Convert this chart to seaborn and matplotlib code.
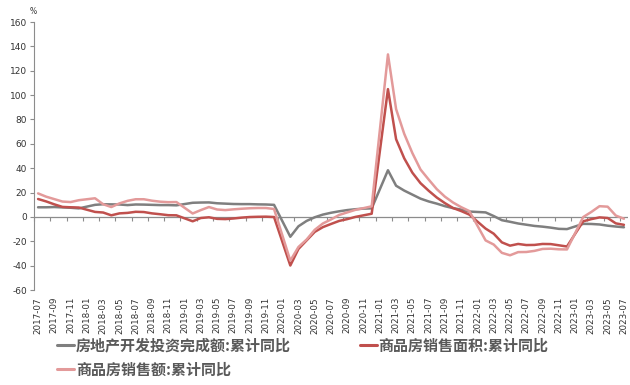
import numpy as np
import pandas as pd
import matplotlib
matplotlib.use("Agg")
import matplotlib.pyplot as plt
import seaborn as sns
from matplotlib.lines import Line2D
from matplotlib.font_manager import FontProperties

# categories: monthly, 2017-07 .. 2023-07 (January values not published -> None)
months = [str(p) for p in pd.period_range("2017-07", "2023-07", freq="M")]

invest = [7.9, 7.9, 8.1, 7.8, 7.5, 7.0,
          None, 9.9, 10.4, 10.3, 10.2, 9.7, 10.2, 10.1, 9.9, 9.7, 9.7, 9.5,
          None, 11.6, 11.8, 11.9, 11.2, 10.9, 10.6, 10.5, 10.5, 10.3, 10.2, 9.9,
          None, -16.3, -7.7, -3.3, -0.3, 1.9, 3.4, 4.6, 5.6, 6.3, 6.8, 7.0,
          None, 38.3, 25.6, 21.6, 18.3, 15.0, 12.7, 10.9, 8.8, 7.2, 6.0, 4.4,
          None, 3.7, 0.7, -2.7, -4.0, -5.4, -6.4, -7.4, -8.0, -8.8, -9.8, -10.0,
          None, -5.7, -5.8, -6.2, -7.2, -7.9, -8.5]

area = [14.7, 12.7, 10.3, 8.2, 7.9, 7.7,
        None, 4.1, 3.6, 1.3, 2.9, 3.3, 4.2, 4.0, 2.9, 2.2, 1.4, 1.3,
        None, -3.6, -0.9, -0.3, -1.6, -1.8, -1.3, -0.6, -0.1, 0.1, 0.2, -0.1,
        None, -39.9, -26.3, -19.3, -12.3, -8.4, -5.8, -3.3, -1.8, 0.0, 1.3, 2.6,
        None, 104.9, 63.8, 48.1, 36.3, 27.7, 21.5, 15.9, 11.3, 7.3, 4.8, 1.9,
        None, -9.6, -13.8, -20.9, -23.6, -22.2, -23.1, -23.0, -22.2, -22.3, -23.3, -24.3,
        None, -3.6, -1.8, -0.4, -0.9, -5.3, -6.5]

value = [19.3, 16.6, 14.6, 12.6, 12.2, 13.7,
         None, 15.3, 10.4, 8.1, 11.1, 13.2, 14.5, 14.5, 13.3, 12.5, 12.1, 12.2,
         None, 2.8, 5.6, 8.1, 6.1, 5.6, 6.2, 6.7, 7.1, 7.3, 7.3, 6.5,
         None, -35.9, -24.7, -18.6, -10.6, -5.4, -2.1, 1.6, 3.7, 5.8, 7.2, 8.7,
         None, 133.4, 88.5, 68.2, 52.4, 38.9, 30.7, 22.8, 16.6, 11.8, 8.0, 4.8,
         None, -19.3, -22.7, -29.5, -31.5, -28.9, -28.8, -27.9, -26.3, -26.1, -26.6, -26.7,
         None, -0.1, 4.1, 8.8, 8.4, 1.1, -1.5]

series_names = ["房地产开发投资完成额:累计同比", "商品房销售面积:累计同比", "商品房销售额:累计同比"]
colors = ["#7F7F7F", "#C0504D", "#E39A9A"]
y_ticks = list(range(-60, 161, 20))

sns.set_theme(style="white")
plt.rcParams["font.family"] = ["DejaVu Sans", "Noto Sans CJK SC"]

df = pd.DataFrame({"month": months, "idx": np.arange(len(months)),
                   series_names[0]: invest, series_names[1]: area, series_names[2]: value})
long = df.melt(id_vars=["month", "idx"], var_name="series", value_name="val").dropna()
long["val"] = long["val"].astype(float)

fig = plt.figure(figsize=(6.3, 3.85), dpi=100)
ax = fig.add_axes([34 / 630, 1 - 290 / 385, (628 - 34) / 630, (290 - 22) / 385])

ax.axhline(0, color="#8C8C8C", lw=0.9, zorder=1.5)
sns.lineplot(data=long, x="idx", y="val", hue="series", hue_order=series_names,
             palette=colors, linewidth=1.8, ax=ax, legend=False, estimator=None)

ax.set_xlim(-0.5, len(months) - 0.5)
ax.set_ylim(-60, 160)
ax.set_yticks(y_ticks)
ax.set_yticklabels([str(t) for t in y_ticks], fontsize=6.5, color="#333333")
tick_idx = np.arange(0, len(months), 2)
ax.set_xticks(tick_idx)
ax.set_xticklabels([months[i] for i in tick_idx], rotation=90, fontsize=6.3, color="#333333")
ax.tick_params(axis="x", length=0, pad=5)
ax.tick_params(axis="y", length=3, width=0.8, color="#8C8C8C", direction="out", left=True, pad=2)
ax.set_xlabel("")
ax.set_ylabel("")
for s in ["top", "right", "bottom"]:
    ax.spines[s].set_visible(False)
ax.spines["left"].set_color("#8C8C8C")
ax.spines["left"].set_linewidth(0.8)

sec = ax.secondary_xaxis(60 / 220)
sec.set_xticks(np.arange(-0.5, len(months), 2))
sec.tick_params(axis="x", length=3, width=0.8, color="#8C8C8C", direction="out", labelbottom=False, labeltop=False)
for s in sec.spines.values():
    s.set_visible(False)

fig.text(33 / 630, 1 - 12 / 385, "%", fontsize=5.5, ha="center", va="center", color="#333333")

handles = [Line2D([], [], color=colors[0], lw=2.2),
           Line2D([], [], color=colors[2], lw=2.2),
           Line2D([], [], color=colors[1], lw=2.2)]
labels = [series_names[0], series_names[2], series_names[1]]
fig.legend(handles, labels, loc="upper left", bbox_to_anchor=(57 / 630, 1 - 337.5 / 385),
           ncol=2, frameon=False,
           prop=FontProperties(family=["Noto Sans CJK SC"], weight="bold", size=10.8),
           labelcolor="#595959", handlelength=1.15, handletextpad=0.1,
           columnspacing=4.6, labelspacing=0.52, borderaxespad=0, borderpad=0)

fig.savefig("out.png", dpi=100)
